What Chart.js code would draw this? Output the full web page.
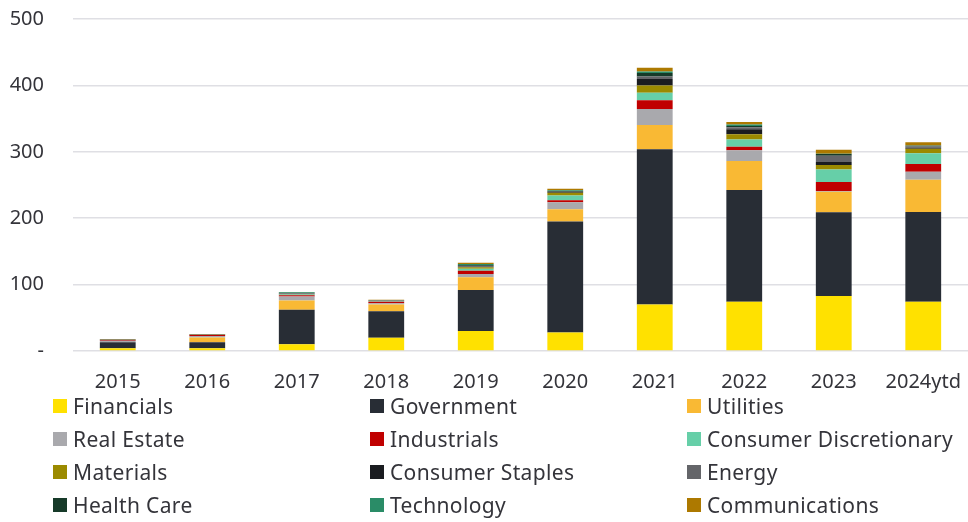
<!DOCTYPE html>
<html>
<head>
<meta charset="utf-8">
<script src="https://cdn.jsdelivr.net/npm/chart.js@4/dist/chart.umd.min.js"></script>
<style>
    body { margin: 0; background: #fff; font-family: "Noto Sans", sans-serif; }
    #wrap { position: relative; width: 968px; height: 522px; }
    #chart-box { position: absolute; left: 0; top: 0; width: 968px; height: 396px; }
    #legend {
        position: absolute; left: 53px; top: 389px;
        display: grid; grid-template-columns: 317px 317px 300px; grid-auto-rows: 33px;
        color: #34343a; font-size: 21px; letter-spacing: 0.35px;
    }
    #legend .item { display: flex; align-items: center; white-space: nowrap; }
    #legend .swatch { width: 14px; height: 14px; margin-right: 6px; flex: none; }
</style>
</head>
<body>
<div id="wrap">
    <div id="chart-box"><canvas id="issuance-chart"></canvas></div>
    <div id="legend"></div>
</div>
<script>
const years = ['2015', '2016', '2017', '2018', '2019', '2020', '2021', '2022', '2023', '2024ytd'];

const financials      = [4, 4, 10, 20, 30, 28, 70, 74, 83, 74];
const government      = [9, 9, 52, 40, 62, 167, 234, 168.5, 126, 135.5];
const utilities       = [0, 7.5, 14, 10, 19, 18.5, 36.5, 43.5, 31, 48.5];
const realEstate      = [2, 2, 6, 2, 5, 10.5, 24, 16.5, 1, 12];
const industrials     = [1, 1.5, 2, 2, 5, 3, 13, 5, 13.5, 11.5];
const consumerDisc    = [0, 0, 1, 1, 3, 7, 11.5, 11, 19, 16.5];
const materials       = [0, 0, 0.5, 0, 2, 4.5, 11, 8, 6.5, 6.5];
const consumerStaples = [0, 0, 0.5, 0, 1, 1, 9.5, 7.5, 4.5, 1.5];
const energy          = [1, 0.5, 1, 0.5, 1, 0.5, 4, 3, 9.5, 2];
const healthCare      = [0.5, 0.5, 0.5, 0.5, 1, 1, 5, 2, 2.5, 1];
const technology      = [0, 0, 1, 0.5, 2, 1, 2.5, 2, 0.5, 0.5];
const communications  = [0.5, 0.5, 0.5, 0.5, 2, 2.5, 5.5, 4, 6, 5];

const yTicks = [0, 100, 200, 300, 400, 500];

const sectors = [
    ['Financials', financials, '#ffe100'],
    ['Government', government, '#282d35'],
    ['Utilities', utilities, '#f9b934'],
    ['Real Estate', realEstate, '#a9a9ad'],
    ['Industrials', industrials, '#c00000'],
    ['Consumer Discretionary', consumerDisc, '#66cfa8'],
    ['Materials', materials, '#9b8a00'],
    ['Consumer Staples', consumerStaples, '#1a1c20'],
    ['Energy', energy, '#646569'],
    ['Health Care', healthCare, '#163a29'],
    ['Technology', technology, '#2a8c67'],
    ['Communications', communications, '#ad7900']
];

const textColor = '#34343a';
const font = { family: '"Noto Sans", sans-serif', size: 20 };

const ctx = document.getElementById('issuance-chart').getContext('2d');
const chart = new Chart(ctx, {
    type: 'bar',
    data: {
        labels: years,
        datasets: sectors.map(([name, values, color]) => ({
            label: name,
            data: values,
            backgroundColor: color,
            borderWidth: 0,
            categoryPercentage: 1,
            barPercentage: 0.4
        }))
    },
    options: {
        responsive: true,
        maintainAspectRatio: false,
        animation: false,
        layout: { padding: { left: 0, top: 19, right: 0, bottom: 0 } },
        plugins: {
            legend: { display: false },
            tooltip: { enabled: false }
        },
        scales: {
            x: {
                stacked: true,
                grid: { display: false, drawTicks: false },
                border: { display: false },
                ticks: { color: textColor, font: font, padding: 19, maxRotation: 0 },
                // fixed band under the plot; labels may overhang the edges
                afterFit: axis => {
                    axis.height = 45;
                    axis.paddingLeft = 0;
                    axis.paddingRight = 0;
                }
            },
            y: {
                stacked: true,
                min: 0,
                max: 500,
                afterBuildTicks: axis => { axis.ticks = yTicks.map(v => ({ value: v })); },
                grid: { color: '#dfdfe4', lineWidth: 1.5, drawTicks: false },
                border: { display: false },
                ticks: {
                    color: textColor,
                    font: font,
                    padding: 29,
                    callback: value => value === 0 ? '-' : value
                },
                afterFit: axis => {
                    axis.width = 73;
                    axis.paddingTop = 0;
                    axis.paddingBottom = 0;
                }
            }
        }
    }
});

// legend laid out in three fixed columns under the chart
const legend = document.getElementById('legend');
chart.data.datasets.forEach(ds => {
    const item = document.createElement('div');
    item.className = 'item';
    const swatch = document.createElement('span');
    swatch.className = 'swatch';
    swatch.style.background = ds.backgroundColor;
    const label = document.createElement('span');
    label.textContent = ds.label;
    item.appendChild(swatch);
    item.appendChild(label);
    legend.appendChild(item);
});
</script>
</body>
</html>
